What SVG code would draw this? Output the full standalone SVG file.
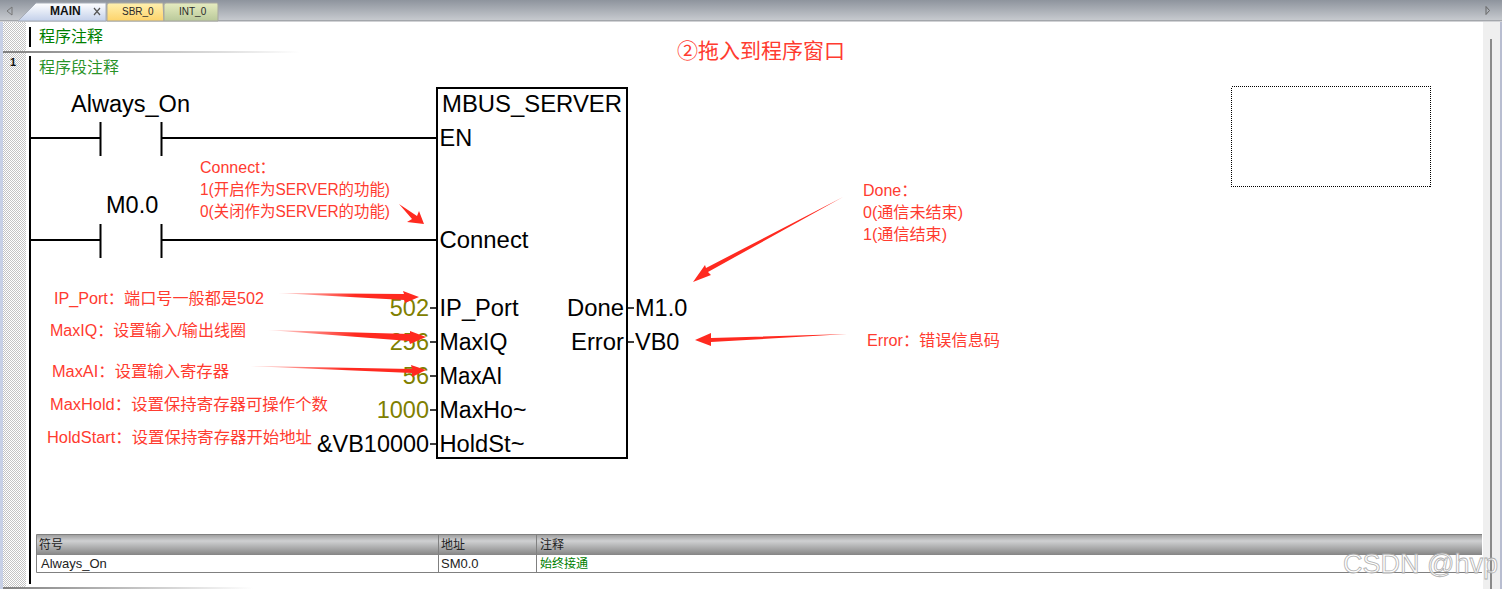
<svg xmlns="http://www.w3.org/2000/svg" width="1502" height="589" viewBox="0 0 1502 589">
<defs>
<linearGradient id="bar" x1="0" y1="0" x2="0" y2="1"><stop offset="0" stop-color="#8e949d"/><stop offset="1" stop-color="#c9ccd1"/></linearGradient>
<linearGradient id="tabM" x1="0" y1="0" x2="0" y2="1"><stop offset="0" stop-color="#ffffff"/><stop offset="1" stop-color="#c3d0ea"/></linearGradient>
<linearGradient id="tabS" x1="0" y1="0" x2="0" y2="1"><stop offset="0" stop-color="#fff1b0"/><stop offset="1" stop-color="#fdd36a"/></linearGradient>
<linearGradient id="tabI" x1="0" y1="0" x2="0" y2="1"><stop offset="0" stop-color="#e6ecc0"/><stop offset="1" stop-color="#b9c99a"/></linearGradient>
<linearGradient id="hdr" x1="0" y1="0" x2="0" y2="1"><stop offset="0" stop-color="#a0a0a0"/><stop offset="0.3" stop-color="#cfd0d2"/><stop offset="1" stop-color="#858585"/></linearGradient>
<linearGradient id="sep" x1="0" y1="0" x2="1" y2="0"><stop offset="0" stop-color="#808080"/><stop offset="1" stop-color="#ffffff"/></linearGradient>
<linearGradient id="tailA" x1="0" y1="0" x2="1" y2="0"><stop offset="0" stop-color="#ff2a20" stop-opacity="0.15"/><stop offset="0.55" stop-color="#ff2a20"/></linearGradient>
<pattern id="dots" width="2" height="2" patternUnits="userSpaceOnUse"><rect width="2" height="2" fill="#ffffff"/><rect width="1" height="1" fill="#c4c4c4"/><rect x="1" y="1" width="1" height="1" fill="#c4c4c4"/></pattern>
</defs>
<style>
.ld{font-family:"Liberation Sans",Arial,sans-serif;font-size:23.5px;fill:#000}
.num{font-family:"Liberation Sans",Arial,sans-serif;font-size:23.5px;fill:#808000}
.note{font-family:"Liberation Sans","Noto Sans CJK SC",sans-serif;font-size:16px;fill:#ff3b30}
.green{font-family:"Noto Sans CJK SC","Liberation Sans",sans-serif;font-size:16px;fill:#008000}
.tab{font-family:"Liberation Sans",Arial,sans-serif;font-size:10px;fill:#2a2a2a}
.tbl{font-family:"Liberation Sans","Noto Sans CJK SC",sans-serif;font-size:13px;fill:#222}
.tblc{font-family:"Noto Sans CJK SC",sans-serif;font-size:12px;fill:#222}
.wire{stroke:#000;stroke-width:2;fill:none}
.stub{stroke:#000;stroke-width:1.5;fill:none}
.arrow{fill:#ff2a20;stroke:none}
.tail{fill:url(#tailA);stroke:none}
</style>

<g id="window">
<rect width="1502" height="589" fill="#ffffff"/>
<rect width="1502" height="21" fill="url(#bar)"/>
<rect y="20" width="1502" height="1.5" fill="#a3a6ab"/>
<rect x="0" y="22" width="26" height="567" fill="url(#dots)"/>
<rect x="0" y="22" width="3" height="567" fill="#c7d0e6"/>
<rect x="1483" y="22" width="17" height="567" fill="#efefef"/>
<rect x="1490" y="39" width="2" height="550" fill="#8a8a8a"/>
<rect x="1500" y="22" width="2" height="567" fill="#b8bdd0"/>
<path d="M12 7L7 11L12 15Z" fill="none" stroke="#777"/>
<path d="M1486 6.500L1489.500 10.500L1486 14.500Z" fill="none" stroke="#666"/>
</g>

<g id="tabs">
<path d="M18 21L36 3H106V21Z" fill="url(#tabM)" stroke="#a7adb8"/>
<path d="M107 21V5Q107 3 109 3H163L164 21Z" fill="url(#tabS)" stroke="#a7a7a0"/>
<path d="M164 21V5Q164 3 166 3H217Q218 3 218 5V21Z" fill="url(#tabI)" stroke="#a7a7a0"/>
<text x="50" y="15" class="tab" font-weight="bold" style="font-size:12px;fill:#111">MAIN</text>
<path d="M94 8L100 15M100 8L94 15" stroke="#555" stroke-width="1.200"/>
<text x="122" y="15" class="tab">SBR_0</text>
<text x="179" y="15" class="tab">INT_0</text>
</g>

<g id="comments">
<rect x="29" y="27" width="2" height="20" fill="#000"/>
<text x="39" y="42" class="green">程序注释</text>
<rect x="3" y="51" width="297" height="2" fill="url(#sep)"/>
<text x="10" y="66" font-family="Liberation Sans,sans-serif" font-size="11" font-weight="bold" fill="#111">1</text>
<rect x="29" y="56" width="2" height="528" fill="#000"/>
<text x="39" y="73" class="green" fill-opacity="0.85">程序段注释</text>
<rect x="3" y="587" width="250" height="2" fill="url(#sep)"/>
</g>

<g id="connectors">
<path class="wire" d="M31 138H100M162 138H437"/>
<path class="wire" d="M31 240H100M162 240H437"/>
<path class="wire" d="M100.500 122V156M161.500 122V156"/>
<path class="wire" d="M100.500 224V258M161.500 224V258"/>
<path class="stub" d="M430 308H437M430 342H437M430 376H437M430 410H437M430 444H437"/>
<path class="stub" d="M627 308H634M627 342H634"/>
</g>

<g id="contact_always_on"><text x="71" y="112" class="ld" textLength="119" lengthAdjust="spacingAndGlyphs">Always_On</text></g>
<g id="contact_m0"><text x="106" y="213" class="ld">M0.0</text></g>

<g id="mbus_server">
<rect x="437" y="88" width="190" height="370" fill="#ffffff" stroke="#000" stroke-width="2"/>
<text x="442" y="112" class="ld" textLength="180" lengthAdjust="spacingAndGlyphs">MBUS_SERVER</text>
<text x="439.500" y="146" class="ld">EN</text>
<text x="439.500" y="248" class="ld" textLength="89" lengthAdjust="spacingAndGlyphs">Connect</text>
<text x="439.500" y="316" class="ld" textLength="79" lengthAdjust="spacingAndGlyphs">IP_Port</text>
<text x="439.500" y="350" class="ld" textLength="68" lengthAdjust="spacingAndGlyphs">MaxIQ</text>
<text x="439.500" y="384" class="ld" textLength="63" lengthAdjust="spacingAndGlyphs">MaxAI</text>
<text x="439.500" y="418" class="ld" textLength="87" lengthAdjust="spacingAndGlyphs">MaxHo~</text>
<text x="439.500" y="452" class="ld" textLength="85" lengthAdjust="spacingAndGlyphs">HoldSt~</text>
<text x="567" y="316" class="ld" textLength="57" lengthAdjust="spacingAndGlyphs">Done</text>
<text x="571" y="350" class="ld" textLength="53" lengthAdjust="spacingAndGlyphs">Error</text>
</g>

<g id="operands">
<text x="429" y="316" class="num" text-anchor="end">502</text>
<text x="429" y="350" class="num" text-anchor="end">256</text>
<text x="429" y="384" class="num" text-anchor="end">56</text>
<text x="429" y="418" class="num" text-anchor="end">1000</text>
<text x="317" y="452" class="ld" textLength="112" lengthAdjust="spacingAndGlyphs">&amp;VB10000</text>
<text x="635" y="316" class="ld">M1.0</text>
<text x="635" y="350" class="ld">VB0</text>
</g>

<g id="annotations">
<text x="677" y="58" font-family="Noto Sans CJK SC,sans-serif" font-size="21" fill="#ff3b30">②拖入到程序窗口</text>
<text x="200" y="173" class="note">Connect：</text>
<text x="200" y="195" class="note" textLength="190" lengthAdjust="spacingAndGlyphs">1(开启作为SERVER的功能)</text>
<text x="200" y="217" class="note" textLength="190" lengthAdjust="spacingAndGlyphs">0(关闭作为SERVER的功能)</text>
<text x="863" y="196" class="note">Done：</text>
<text x="863" y="218" class="note" textLength="100" lengthAdjust="spacingAndGlyphs">0(通信未结束)</text>
<text x="863" y="240" class="note" textLength="84" lengthAdjust="spacingAndGlyphs">1(通信结束)</text>
<text x="867" y="346" class="note" textLength="133" lengthAdjust="spacingAndGlyphs">Error：错误信息码</text>
<text x="54" y="304" class="note" textLength="210" lengthAdjust="spacingAndGlyphs">IP_Port：端口号一般都是502</text>
<text x="50" y="336" class="note" textLength="196" lengthAdjust="spacingAndGlyphs">MaxIQ：设置输入/输出线圈</text>
<text x="52" y="377" class="note" textLength="177" lengthAdjust="spacingAndGlyphs">MaxAI：设置输入寄存器</text>
<text x="50" y="410" class="note" textLength="278" lengthAdjust="spacingAndGlyphs">MaxHold：设置保持寄存器可操作个数</text>
<text x="47" y="443" class="note" textLength="265" lengthAdjust="spacingAndGlyphs">HoldStart：设置保持寄存器开始地址</text>
</g>

<g id="red_arrows">
<polygon class="arrow" points="399,204 417,216 419,211 424,224 407,222 412,219 399,204"/>
<polygon class="tail" points="843,197 708,272 711,275 693,282 705,265 706,268" style="fill:#ff2a20"/>
<polygon class="arrow" points="847,334 711,338 711,333 695,340 711,346 711,342"/>
<polygon class="tail" points="278,293 404,294 403,291 419,297 405,303 404,300"/>
<polygon class="tail" points="268,330 410,334 410,331 426,337 410,344 409,341"/>
<polygon class="tail" points="250,366 412,369 411,365 426,370 412,377 412,373"/>
</g>

<g id="dashed_box"><rect x="1231.500" y="86.500" width="199" height="100" fill="none" stroke="#000" stroke-dasharray="1 1" shape-rendering="crispEdges"/></g>

<g id="symbol_table">
<rect x="36" y="535" width="1446" height="20" fill="url(#hdr)"/>
<path d="M1482 534.500H36.500V572.500H1482" fill="none" stroke="#808080"/>
<path d="M438.500 534.500V572.500M536.500 534.500V572.500" fill="none" stroke="#808080"/>
<text x="39" y="549" class="tblc">符号</text>
<text x="441" y="549" class="tblc">地址</text>
<text x="540" y="549" class="tblc">注释</text>
<text x="41" y="568" class="tbl">Always_On</text>
<text x="441" y="568" class="tbl">SM0.0</text>
<text x="540" y="568" class="tblc" style="fill:#008000">始终接通</text>
</g>

<g id="watermark"><text x="1343" y="573" font-family="Liberation Sans,sans-serif" font-size="27" fill="#ffffff" stroke="#a8a8a8" stroke-width="0.800" opacity="0.9">CSDN @hvp</text></g>
</svg>
